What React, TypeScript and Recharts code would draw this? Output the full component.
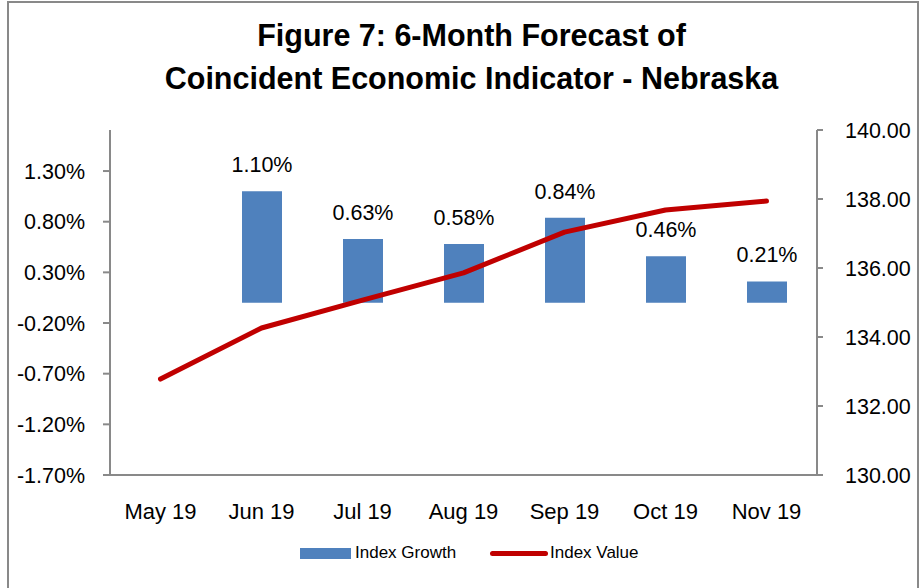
import React from 'react';
import { ComposedChart, Bar, Line, XAxis, YAxis, LabelList } from 'recharts';

const categories = ['May 19', 'Jun 19', 'Jul 19', 'Aug 19', 'Sep 19', 'Oct 19', 'Nov 19'];
const indexGrowth: (number | null)[] = [null, 1.10, 0.63, 0.58, 0.84, 0.46, 0.21];
const indexValue = [132.78, 134.26, 135.07, 135.86, 137.04, 137.68, 137.94];
const leftTicks = [-1.7, -1.2, -0.7, -0.2, 0.3, 0.8, 1.3];
const rightTicks = [130, 132, 134, 136, 138, 140];
const titleLines = ['Figure 7: 6-Month Forecast of', 'Coincident Economic Indicator - Nebraska'];
const seriesNames = ['Index Growth', 'Index Value'];

const data = categories.map((c, i) => ({ cat: c, growth: indexGrowth[i], value: indexValue[i] }));

const FONT = '"Liberation Sans", Arial, sans-serif';
const AXIS = '#898989';
const BAR = '#4F81BD';
const LINE = '#C00000';

export default function App() {
  return (
    <div style={{ position: 'absolute', left: 0, top: 0, width: 921, height: 588, background: '#fff', fontFamily: FONT, overflow: 'hidden' }}>
      <div style={{ position: 'absolute', left: 7, top: 1, width: 912, height: 600, border: `2px solid ${AXIS}`, boxSizing: 'border-box' }} />
      <div style={{ position: 'absolute', left: 0, top: 14, width: 943, textAlign: 'center', fontWeight: 'bold', fontSize: 30.5, lineHeight: '43px', color: '#000' }}>
        {titleLines.map((t) => (<div key={t}>{t}</div>))}
      </div>
      <div style={{ position: 'absolute', left: 0, top: 0 }}>
        <ComposedChart width={921} height={588} data={data} margin={{ top: 130, left: 0, right: 0, bottom: 63 }}>
          <XAxis dataKey="cat" height={50} tickLine={false} axisLine={{ stroke: AXIS, strokeWidth: 2 }} tickMargin={22}
            tick={{ fill: '#000', fontSize: 22, fontFamily: FONT }} interval={0} />
          <YAxis yAxisId="left" width={110} domain={[-1.7, 1.705]} ticks={leftTicks} interval={0}
            tickFormatter={(v: number) => v.toFixed(2) + '%'} axisLine={{ stroke: AXIS, strokeWidth: 2 }}
            tickLine={{ stroke: AXIS, strokeWidth: 2 }} tickSize={7} tickMargin={18}
            tick={{ fill: '#000', fontSize: 21.5, fontFamily: FONT }} allowDataOverflow />
          <YAxis yAxisId="right" orientation="right" width={104} domain={[130, 140]} ticks={rightTicks} interval={0}
            tickFormatter={(v: number) => v.toFixed(2)} axisLine={{ stroke: AXIS, strokeWidth: 2 }}
            tickLine={{ stroke: AXIS, strokeWidth: 2 }} tickSize={6} tickMargin={22}
            tick={{ fill: '#000', fontSize: 21.5, fontFamily: FONT, textAnchor: 'start' }} allowDataOverflow />
          <Bar yAxisId="left" dataKey="growth" name={seriesNames[0]} fill={BAR} barSize={40} isAnimationActive={false}>
            <LabelList dataKey="growth" position="top" offset={19}
              formatter={(v: any) => (v == null ? '' : Number(v).toFixed(2) + '%')}
              style={{ fill: '#000', fontSize: 21.5, fontFamily: FONT }} />
          </Bar>
          <Line yAxisId="right" dataKey="value" name={seriesNames[1]} stroke={LINE} strokeWidth={5} dot={false}
            strokeLinecap="round" strokeLinejoin="round" isAnimationActive={false} />
        </ComposedChart>
      </div>
      <div style={{ position: 'absolute', left: 300, top: 548, width: 51, height: 11, background: BAR }} />
      <div style={{ position: 'absolute', left: 355, top: 542, fontSize: 17, lineHeight: '22px', color: '#000', whiteSpace: 'nowrap' }}>{seriesNames[0]}</div>
      <div style={{ position: 'absolute', left: 490, top: 551, width: 58, height: 5, background: LINE, borderRadius: 3 }} />
      <div style={{ position: 'absolute', left: 550, top: 542, fontSize: 17, lineHeight: '22px', color: '#000', whiteSpace: 'nowrap' }}>{seriesNames[1]}</div>
    </div>
  );
}
